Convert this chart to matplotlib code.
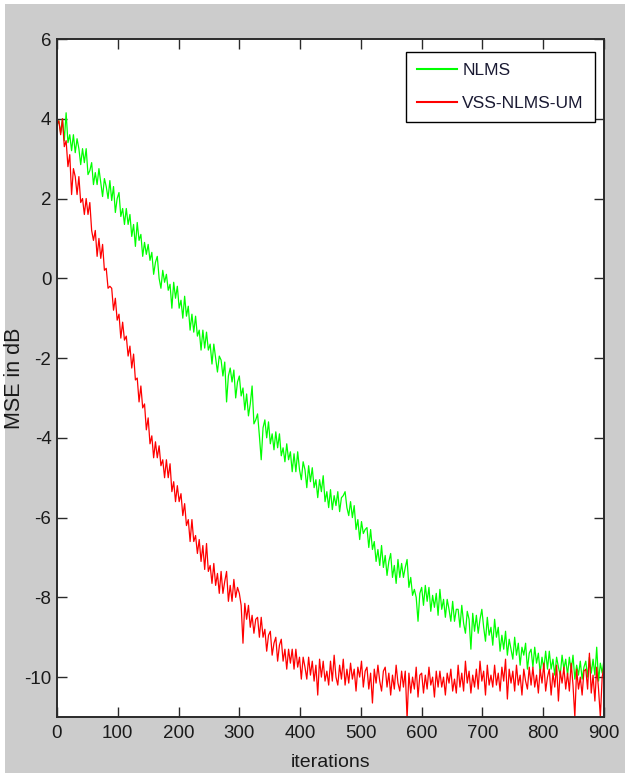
import numpy as np
import matplotlib
matplotlib.use("Agg")
import matplotlib.pyplot as plt
from matplotlib.patches import Rectangle

plt.rcParams['font.family'] = ['Liberation Sans', 'DejaVu Sans']
plt.rcParams['axes.unicode_minus'] = False

# ---- data (every 3 iterations) ----
iterations = np.arange(0, 901, 3)
nlms_mse = [
    3.85, 3.95, 3.65, 4.0, 3.45, 4.15, 3.4, 3.6, 3.2, 3.6,
    3.15, 3.5, 3.25, 2.85, 3.25, 2.9, 3.25, 2.6, 2.7, 2.9,
    2.35, 2.65, 2.35, 2.75, 2.4, 2.05, 2.5, 2.3, 2.0, 2.45,
    1.95, 2.3, 1.65, 2.0, 2.15, 1.55, 1.75, 1.35, 1.75, 1.35,
    1.6, 1.05, 1.35, 0.8, 1.4, 0.95, 1.1, 0.55, 0.9, 0.6,
    0.85, 0.45, 0.65, 0.1, 0.4, 0.55, 0.0, -0.25, 0.2, -0.1,
    0.1, -0.3, -0.15, -0.75, -0.1, -0.5, -0.2, -0.75, -0.55, -1.0,
    -0.45, -0.95, -0.7, -1.3, -0.9, -1.35, -0.95, -1.45, -1.3, -1.8,
    -1.3, -1.75, -1.35, -1.8, -1.65, -2.15, -1.65, -2.0, -2.35, -1.95,
    -2.05, -2.45, -2.1, -3.1, -2.45, -2.25, -2.6, -2.3, -3.0, -2.6,
    -2.45, -2.95, -2.75, -3.3, -2.9, -3.45, -3.15, -2.7, -3.65, -3.55,
    -3.4, -3.95, -4.55, -3.75, -3.55, -4.0, -3.6, -4.15, -3.9, -4.3,
    -3.85, -4.25, -3.9, -4.45, -4.25, -4.6, -4.15, -4.55, -4.35, -4.85,
    -4.4, -4.85, -4.35, -4.8, -5.05, -4.6, -4.8, -5.25, -4.7, -5.1,
    -4.75, -5.25, -5.05, -5.5, -5.05, -5.35, -4.95, -5.6, -5.35, -5.75,
    -5.3, -5.8, -5.45, -5.7, -5.35, -5.85, -5.5, -5.45, -5.35, -5.75,
    -5.95, -5.6, -6.0, -5.7, -6.3, -6.05, -6.55, -6.1, -6.4, -6.3,
    -6.25, -6.75, -6.3, -6.8, -6.6, -7.1, -6.8, -7.2, -6.7, -7.25,
    -6.95, -7.45, -7.1, -6.9, -7.5, -7.2, -7.65, -7.05, -7.5, -7.15,
    -7.5, -7.25, -7.05, -7.75, -7.5, -7.95, -7.8, -8.0, -8.6, -7.9,
    -7.75, -8.2, -7.7, -8.1, -7.75, -8.35, -7.95, -8.25, -7.9, -8.45,
    -7.8, -8.3, -8.05, -8.5, -8.05, -8.3, -8.6, -8.1, -8.6, -8.3,
    -8.3, -8.75, -8.2, -8.65, -8.9, -8.35, -8.55, -9.3, -8.4, -8.85,
    -8.45, -8.9, -8.55, -8.3, -8.75, -9.1, -8.5, -8.95, -8.75, -9.2,
    -8.55, -9.0, -8.75, -9.35, -8.95, -9.3, -8.85, -9.45, -9.05, -9.3,
    -9.55, -9.0, -9.45, -9.15, -9.7, -9.25, -9.45, -9.15, -9.8, -9.4,
    -9.3, -9.75, -9.25, -9.65, -9.4, -9.9, -9.5, -9.8, -9.35, -9.8,
    -9.35, -9.8, -9.55, -9.95, -9.5, -9.75, -9.95, -9.45, -9.8, -9.55,
    -9.95, -9.5, -9.85, -9.45, -10.05, -9.7, -9.95, -9.6, -10.05, -9.75,
    -9.6, -10.0, -9.5, -9.9, -9.55, -9.95, -9.25, -10.1, -9.65, -9.9,
    -9.55,
]
vss_mse = [
    3.85, 3.95, 3.6, 4.0, 3.3, 3.45, 2.8, 3.1, 2.1, 2.75,
    2.55, 2.1, 2.55, 1.9, 2.0, 1.6, 2.0, 1.6, 1.9, 1.2,
    0.95, 1.2, 0.55, 1.0, 0.5, 0.85, 0.2, 0.25, -0.25, -0.2,
    -0.25, -0.8, -0.5, -1.05, -0.9, -1.5, -1.1, -1.55, -1.45, -1.95,
    -1.7, -2.25, -1.9, -2.55, -2.5, -3.1, -2.7, -3.25, -3.15, -3.8,
    -3.5, -4.15, -3.95, -4.5, -4.1, -4.5, -4.2, -4.7, -4.55, -5.0,
    -4.55, -5.0, -4.65, -5.35, -5.1, -5.6, -5.2, -5.6, -5.4, -5.95,
    -5.65, -6.2, -6.05, -6.6, -6.05, -6.6, -6.45, -6.9, -6.55, -7.1,
    -6.7, -7.3, -6.65, -7.35, -7.2, -7.65, -7.15, -7.7, -7.4, -7.9,
    -7.35, -7.9, -7.6, -7.35, -8.1, -7.7, -8.1, -7.55, -8.0, -7.75,
    -7.9, -8.2, -9.15, -8.15, -8.55, -8.2, -8.75, -8.45, -8.9, -8.55,
    -8.5, -9.0, -8.5, -9.0, -8.8, -9.35, -8.95, -8.85, -9.45, -9.15,
    -9.0, -9.6, -9.2, -9.05, -9.6, -9.3, -9.8, -9.3, -9.65, -9.3,
    -9.8, -9.3, -9.75, -9.5, -10.05, -9.5, -9.75, -10.05, -9.5, -9.95,
    -9.6, -10.1, -9.7, -10.45, -9.55, -10.0, -9.6, -10.1, -9.85, -10.2,
    -9.6, -10.1, -9.45, -10.0, -10.2, -9.7, -10.05, -9.55, -10.2, -9.8,
    -10.15, -9.65, -10.05, -9.8, -10.35, -9.75, -10.0, -9.6, -10.25, -9.85,
    -9.75, -10.3, -9.9, -10.65, -9.8, -10.15, -9.7, -10.1, -10.35, -9.85,
    -9.75, -10.25, -9.9, -10.45, -9.95, -10.3, -9.7, -10.15, -10.35, -9.85,
    -10.25, -9.85, -11.05, -9.9, -10.4, -10.0, -10.3, -9.75, -10.5, -9.95,
    -9.9, -10.4, -9.95, -10.3, -9.75, -10.2, -10.0, -10.5, -9.85, -10.25,
    -9.85, -10.25, -10.0, -10.45, -9.9, -10.15, -9.8, -10.35, -10.05, -10.4,
    -9.7, -10.25, -9.9, -10.35, -9.6, -10.15, -9.85, -10.4, -9.95, -10.25,
    -9.8, -10.3, -9.6, -10.1, -9.85, -10.45, -9.7, -10.2, -9.95, -10.25,
    -9.7, -10.2, -9.9, -10.35, -9.75, -10.1, -9.55, -10.55, -9.8, -10.15,
    -9.85, -10.35, -9.7, -10.2, -9.95, -10.45, -9.8, -10.1, -10.3, -9.75,
    -10.2, -9.75, -10.25, -9.95, -10.4, -9.8, -10.15, -9.65, -10.35, -10.0,
    -9.8, -10.45, -9.9, -10.25, -9.7, -10.6, -9.85, -10.15, -9.75, -10.3,
    -9.9, -10.35, -9.65, -10.2, -11.0, -9.8, -10.3, -10.0, -10.45, -9.85,
    -9.8, -10.3, -9.4, -10.4, -9.95, -10.6, -9.75, -10.3, -11.0, -10.0,
    -9.7,
]
series_labels = ["NLMS", "VSS-NLMS-UM"]
x_ticks = list(range(0, 901, 100))
y_ticks = list(range(-10, 7, 2))

W, H = 628, 773
fig = plt.figure(figsize=(W / 100, H / 100), dpi=100)
fig.patch.set_facecolor('white')
fig.patches.append(Rectangle((5 / W, 0), 620 / W, 769 / H, transform=fig.transFigure,
                             facecolor='#cccccc', edgecolor='none', zorder=-10))

ax = fig.add_axes([57 / W, 1 - 717 / H, 547 / W, 678 / H])
ax.set_facecolor('white')

ax.plot(iterations, nlms_mse, color=(0, 1, 0), lw=0.9, label=series_labels[0])
ax.plot(iterations, vss_mse, color=(1, 0, 0), lw=0.9, label=series_labels[1])

ax.set_xlim(0, 900)
ax.set_ylim(-11, 6)
ax.set_xticks(x_ticks)
ax.set_yticks(y_ticks)
ax.set_xticklabels([str(t) for t in x_ticks])
ax.set_yticklabels([str(t) for t in y_ticks])

for s in ax.spines.values():
    s.set_color('#2a2a2a')
    s.set_linewidth(1.4)
ax.tick_params(direction='in', length=7, width=1.0, color='#2a2a2a',
               top=True, right=True, labelsize=13.5, labelcolor='#1a1a1a')
ax.tick_params(axis='x', pad=6)
ax.tick_params(axis='y', pad=4)

ax.set_xlabel('iterations', fontsize=14, color='#1a1a1a')
ax.set_ylabel('MSE in dB', fontsize=15.5, color='#1a1a1a')
ax.xaxis.set_label_coords(0.5, -0.055)
ax.yaxis.set_label_coords(-0.058, 0.5)

leg = ax.legend(loc='upper right', bbox_to_anchor=((595 - 57) / 547, 1 - (52 - 39) / 678),
                borderaxespad=0, fontsize=12.5, handlelength=2.3, handletextpad=0.3,
                labelspacing=1.0, borderpad=0.65, fancybox=False, framealpha=1)
leg.get_frame().set_edgecolor('black')
leg.get_frame().set_linewidth(1.0)
for t in leg.get_texts():
    t.set_color('#1a1a33')
for l in leg.get_lines():
    l.set_linewidth(1.5)

fig.savefig('out.png', dpi=100)
